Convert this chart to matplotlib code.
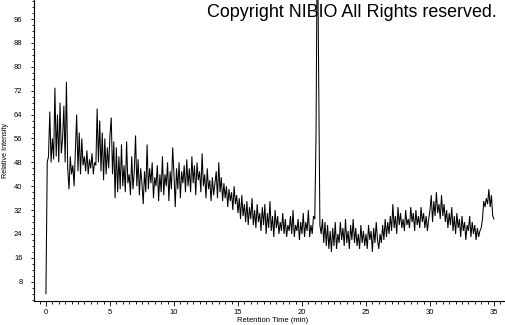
import numpy as np
import matplotlib
matplotlib.use("Agg")
import matplotlib.pyplot as plt
from matplotlib.ticker import MultipleLocator

# Retention time grid (min), sampled every 0.1 min from 0 to 35
time_start = 0.0
time_step = 0.1

# Relative intensity, one row per minute
intensity = [
    4, 48, 50, 65, 48, 56, 49, 73, 50, 64,       # 0
    48, 68, 51, 56, 67, 48, 75, 46, 39, 50,      # 1
    44, 47, 40, 52, 64, 45, 58, 44, 56, 47,      # 2
    50, 45, 52, 44, 49, 46, 51, 44, 48, 47,      # 3
    66, 48, 62, 45, 58, 42, 56, 44, 53, 46,      # 4
    57, 63, 44, 55, 36, 53, 38, 50, 39, 54,      # 5
    40, 47, 38, 55, 41, 44, 37, 50, 39, 45,      # 6
    57, 40, 49, 37, 46, 41, 34, 45, 38, 54,      # 7
    39, 46, 41, 48, 36, 43, 40, 47, 35, 44,      # 8
    38, 50, 37, 44, 40, 48, 35, 45, 39, 53,      # 9
    44, 33, 46, 39, 48, 36, 45, 41, 47, 38,      # 10
    49, 40, 46, 38, 50, 41, 47, 37, 48, 42,      # 11
    45, 38, 51, 40, 44, 36, 46, 39, 42, 35,      # 12
    43, 37, 41, 45, 36, 48, 38, 43, 35, 41,      # 13
    36, 40, 33, 39, 35, 38, 32, 40, 34, 37,      # 14
    31, 36, 29, 37, 30, 34, 28, 35, 27, 33,      # 15
    29, 36, 27, 32, 26, 34, 28, 31, 25, 33,      # 16
    27, 34, 24, 31, 26, 35, 25, 30, 23, 32,      # 17
    26, 30, 24, 28, 25, 31, 24, 29, 23, 27,      # 18
    25, 30, 24, 32, 23, 27, 25, 29, 22, 28,      # 19
    24, 31, 23, 28, 25, 32, 23, 27, 24, 30,      # 20
    29, 58, 130, 80, 27, 24, 29, 21, 28, 20,     # 21
    27, 19, 25, 18, 26, 20, 28, 19, 24, 21,      # 22
    28, 22, 26, 20, 29, 21, 25, 19, 27, 22,      # 23
    29, 21, 26, 20, 24, 19, 27, 21, 25, 20,      # 24
    24, 19, 27, 22, 25, 18, 26, 21, 28, 22,      # 25
    19, 24, 21, 27, 22, 29, 23, 28, 24, 30,      # 26
    25, 34, 26, 30, 24, 33, 27, 31, 26, 29,      # 27
    25, 32, 27, 29, 26, 33, 28, 31, 25, 32,      # 28
    27, 30, 26, 33, 28, 31, 26, 30, 25, 29,      # 29
    32, 37, 28, 35, 30, 38, 31, 34, 29, 37,      # 30
    30, 34, 28, 32, 26, 31, 27, 33, 25, 30,      # 31
    24, 31, 26, 29, 23, 30, 25, 28, 22, 27,      # 32
    25, 30, 23, 28, 24, 27, 22, 26, 23, 25,      # 33
    26, 29, 35, 33, 36, 34, 39, 33, 37, 30,      # 34
    29,                                          # 35
]

x_major_ticks = [0, 5, 10, 15, 20, 25, 30, 35]
y_major_ticks = [8, 16, 24, 32, 40, 48, 56, 64, 72, 80, 88, 96]

time = time_start + time_step * np.arange(len(intensity))

plt.rcParams['font.family'] = ['Liberation Sans', 'DejaVu Sans']

fig = plt.figure(figsize=(5.05, 3.25), dpi=100)
ax = fig.add_axes([34.3 / 505, 1 - 301 / 325, 1 - 34.3 / 505, 301 / 325])

ax.plot(time, intensity, color='black', linewidth=0.75, solid_joinstyle='miter')

ax.set_xlim(-0.91, 35.86)
ax.set_ylim(1.54, 102.4)

for s in ('top', 'right'):
    ax.spines[s].set_visible(False)
for s in ('left', 'bottom'):
    ax.spines[s].set_linewidth(0.8)

ax.set_xticks(x_major_ticks)
ax.set_yticks(y_major_ticks)
ax.xaxis.set_minor_locator(MultipleLocator(0.5))
ax.yaxis.set_minor_locator(MultipleLocator(2))
ax.tick_params(axis='both', which='both', direction='out', width=0.6, labelsize=5.5)
ax.tick_params(axis='x', which='major', length=3.5, pad=2.5)
ax.tick_params(axis='x', which='minor', length=2)
ax.tick_params(axis='y', which='major', length=2.5, pad=6)
ax.tick_params(axis='y', which='minor', length=1.5)

fig.text(273 / 505, 1 - 320 / 325, 'Retention Time (min)', ha='center', va='center',
         fontsize=5.5)
fig.text(6 / 505, 1 - 150 / 325, 'Relative Intensity', ha='center', va='center',
         rotation=90, fontsize=5.2)

fig.text(497 / 505, 1 - 4 / 325, 'Copyright NIBIO All Rights reserved.', ha='right',
         va='top', fontsize=12.9, color='black')

fig.savefig('out.png', dpi=100)
